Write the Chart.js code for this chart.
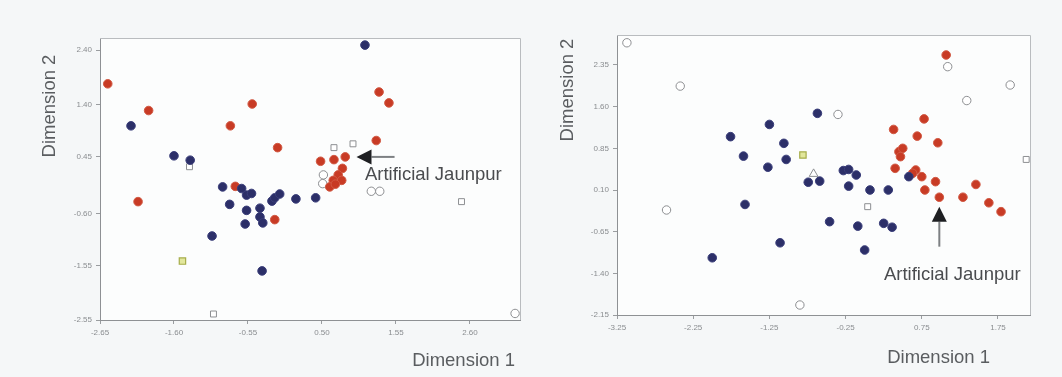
<!DOCTYPE html>
<html><head><meta charset="utf-8">
<script src="https://cdn.jsdelivr.net/npm/chart.js@4.4.1/dist/chart.umd.min.js"></script>
<style>
html,body{margin:0;padding:0;background:#f5f7f8;}
#wrap{position:relative;width:1062px;height:377px;overflow:hidden;}
.c{position:absolute;top:0;width:531px;height:377px;}
</style></head><body>
<div id="wrap">
<div class="c" style="left:0"><canvas id="left" width="531" height="377"></canvas></div>
<div class="c" style="left:531px"><canvas id="right" width="531" height="377"></canvas></div>
</div>
<script>
// ---------- tick labels ----------
const LEFT_X_TICKS  = [-2.65, -1.60, -0.55, 0.50, 1.55, 2.60];
const LEFT_Y_TICKS  = [-2.55, -1.55, -0.60, 0.45, 1.40, 2.40];
const RIGHT_X_TICKS = [-3.25, -2.25, -1.25, -0.25, 0.75, 1.75];
const RIGHT_Y_TICKS = [-2.15, -1.40, -0.65, 0.10, 0.85, 1.60, 2.35];

// ---------- left panel data ----------
const leftNavyX = [1.11,-2.21,-1.60,-1.37,-0.91,-0.81,-0.64,-0.57,-0.50,-0.57,-0.38,-0.38,-0.34,-0.59,-0.21,-0.17,-0.10,0.13,0.41,-1.06,-0.35];
const leftNavyY = [2.49,1.01,0.46,0.38,-0.11,-0.43,-0.14,-0.26,-0.23,-0.54,-0.50,-0.66,-0.77,-0.79,-0.37,-0.31,-0.24,-0.33,-0.31,-1.01,-1.65];
const leftRedX = [-2.54,-1.96,-2.11,-0.49,-0.80,-0.13,-0.73,-0.17,1.31,1.45,1.27,0.48,0.67,0.83,0.79,0.73,0.78,0.66,0.61,0.69];
const leftRedY = [1.78,1.29,-0.38,1.41,1.01,0.61,-0.10,-0.71,1.63,1.43,0.74,0.36,0.39,0.44,0.23,0.11,0.01,0.01,-0.11,-0.06];
const leftOpenCircleX = [0.52,0.51,1.20,1.32,3.24];
const leftOpenCircleY = [0.11,-0.05,-0.19,-0.19,-2.43];
const leftOpenSquareX = [-1.38,0.67,0.94,2.48,-1.04];
const leftOpenSquareY = [0.26,0.61,0.68,-0.38,-2.44];
const leftYellowX = [-1.48];
const leftYellowY = [-1.47];

// ---------- right panel data ----------
const rightNavyX = [-0.62,-1.25,-1.76,-1.06,-1.59,-1.03,-1.27,-1.57,-2.00,-1.11,-0.74,-0.59,-0.28,-0.21,-0.11,-0.21,0.07,0.31,-0.46,-0.09,0.25,0.36,0.00,0.58];
const rightNavyY = [1.48,1.28,1.06,0.94,0.71,0.65,0.51,-0.16,-1.12,-0.85,0.24,0.26,0.45,0.47,0.37,0.17,0.10,0.10,-0.47,-0.55,-0.50,-0.57,-0.98,0.34];
const rightRedX = [1.07,0.38,0.78,0.69,0.96,0.45,0.50,0.47,0.40,0.67,0.75,0.93,0.79,0.98,1.29,1.46,1.63,1.79,0.63];
const rightRedY = [2.53,1.19,1.38,1.07,0.95,0.79,0.85,0.70,0.49,0.46,0.34,0.25,0.10,-0.03,-0.03,0.20,-0.13,-0.29,0.40];
const rightOpenCircleX = [-3.12,-2.60,-0.35,1.09,1.34,1.91,-0.85,-2.42];
const rightOpenCircleY = [2.75,-0.26,1.46,2.32,1.71,1.99,-1.97,1.97];
const rightOpenSquareX = [0.04,2.12];
const rightOpenSquareY = [-0.20,0.65];
const rightOpenTriangleX = [-0.67];
const rightOpenTriangleY = [0.39];
const rightYellowX = [-0.81];
const rightYellowY = [0.73];

// ---------- annotation text ----------
const AXIS_X_TITLE = 'Dimension 1';
const AXIS_Y_TITLE = 'Dimension 2';
const NOTE_TEXT = 'Artificial Jaunpur';

const pts = (xs, ys) => xs.map((x, i) => ({x, y: ys[i]}));

const NAVY = '#2c2f68', RED = '#c83b25';
function sets(navy, red, oc, os, yel, tri) {
  const base = {clip: false, pointHoverRadius: 5};
  const out = [
    {...base, label:'navy', data: navy, pointRadius: 4.3, backgroundColor: NAVY, borderColor: '#3a3e7a', borderWidth: 1},
    {...base, label:'red', data: red, pointRadius: 4.3, backgroundColor: RED, borderColor: '#d25a44', borderWidth: 1},
    {...base, label:'open', data: oc, pointRadius: 4.2, backgroundColor: '#ffffff', borderColor: '#8d8f92', borderWidth: 1},
    {...base, label:'openSq', data: os, pointStyle: 'rect', pointRadius: 4.2, backgroundColor: '#ffffff', borderColor: '#8d8f92', borderWidth: 1},
    {...base, label:'yellow', data: yel, pointStyle: 'rect', pointRadius: 4.5, backgroundColor: '#e2e79c', borderColor: '#a6ad4a', borderWidth: 1.2}
  ];
  if (tri) out.push({...base, label:'tri', data: tri, pointStyle: 'triangle', pointRadius: 5, backgroundColor: '#ffffff', borderColor: '#8d8f92', borderWidth: 1});
  return out;
}

const decor = {
  id: 'decor',
  beforeDraw(chart) {
    const {ctx, chartArea: a} = chart;
    ctx.save();
    ctx.fillStyle = '#fcfdfd';
    ctx.fillRect(a.left, a.top, a.right - a.left, a.bottom - a.top);
    ctx.restore();
  },
  afterDraw(chart, args, o) {
    const {ctx, chartArea: a, scales} = chart;
    ctx.save();
    ctx.strokeStyle = '#b9bcbf'; ctx.lineWidth = 1;
    ctx.beginPath();
    ctx.moveTo(a.left, a.top + 0.5); ctx.lineTo(a.right + 0.5, a.top + 0.5); ctx.lineTo(a.right + 0.5, a.bottom);
    ctx.stroke();
    ctx.fillStyle = '#5a5d60';
    ctx.font = '18.5px "Liberation Sans", Arial, sans-serif';
    ctx.textAlign = 'right'; ctx.textBaseline = 'middle';
    ctx.fillText(AXIS_X_TITLE, a.right - o.xTitleInset, o.xTitleY);
    ctx.save();
    ctx.translate(o.yTitleX, o.yTitleY);
    ctx.rotate(-Math.PI / 2);
    ctx.textAlign = 'center';
    ctx.fillText(AXIS_Y_TITLE, 0, 0);
    ctx.restore();
    const xs = scales.x, ys = scales.y;
    const tx = xs.getPixelForValue(o.arrow.tip[0]), ty = ys.getPixelForValue(o.arrow.tip[1]);
    const sx = xs.getPixelForValue(o.arrow.tail[0]), sy = ys.getPixelForValue(o.arrow.tail[1]);
    const ang = Math.atan2(ty - sy, tx - sx);
    const hl = 15, hw = 7.5;
    const bx = tx - hl * Math.cos(ang), by = ty - hl * Math.sin(ang);
    ctx.strokeStyle = '#7d8083'; ctx.lineWidth = 2;
    ctx.beginPath(); ctx.moveTo(sx, sy); ctx.lineTo(bx, by); ctx.stroke();
    ctx.fillStyle = '#1e1f22';
    ctx.beginPath();
    ctx.moveTo(tx, ty);
    ctx.lineTo(bx + hw * Math.sin(ang), by - hw * Math.cos(ang));
    ctx.lineTo(bx - hw * Math.sin(ang), by + hw * Math.cos(ang));
    ctx.closePath(); ctx.fill();
    ctx.fillStyle = '#4a4c4f';
    ctx.font = '18.5px "Liberation Sans", Arial, sans-serif';
    ctx.textAlign = o.note.align; ctx.textBaseline = 'middle';
    ctx.fillText(NOTE_TEXT, xs.getPixelForValue(o.note.at[0]), ys.getPixelForValue(o.note.at[1]));
    ctx.restore();
  }
};

function axis(min, max, ticks, size, horizontal) {
  return {
    type: 'linear', min, max,
    afterBuildTicks: s => { s.ticks = ticks.map(v => ({value: v})); },
    afterFit: s => { if (horizontal) s.height = size; else s.width = size; },
    ticks: {
      autoSkip: false, maxRotation: 0, padding: 4,
      color: '#8a8d90',
      font: {family: '"Liberation Sans", Arial, sans-serif', size: 8},
      callback: v => Number(v).toFixed(2)
    },
    grid: {display: true, drawOnChartArea: false, drawTicks: true, tickLength: 4, color: '#9a9da0'},
    border: {display: true, color: '#8e9194', width: 1}
  };
}

function makeChart(id, datasets, sc, pad, decorOpts) {
  return new Chart(document.getElementById(id), {
    type: 'scatter',
    data: {datasets},
    options: {
      responsive: false, animation: false,
      layout: {padding: pad},
      plugins: {legend: {display: false}, tooltip: {enabled: false}, decor: decorOpts},
      scales: sc
    },
    plugins: [decor]
  });
}

makeChart('left',
  sets(pts(leftNavyX, leftNavyY), pts(leftRedX, leftRedY), pts(leftOpenCircleX, leftOpenCircleY),
       pts(leftOpenSquareX, leftOpenSquareY), pts(leftYellowX, leftYellowY)),
  {x: axis(-2.65, 3.31, LEFT_X_TICKS, 57, true), y: axis(-2.55, 2.62, LEFT_Y_TICKS, 100, false)},
  {top: 38, right: 11, left: 0, bottom: 0},
  {xTitleInset: 5, xTitleY: 361, yTitleX: 50, yTitleY: 106,
   arrow: {tip: [0.99, 0.44], tail: [1.53, 0.44]}, note: {at: [1.11, 0.11], align: 'left'}}
);

makeChart('right',
  sets(pts(rightNavyX, rightNavyY), pts(rightRedX, rightRedY), pts(rightOpenCircleX, rightOpenCircleY),
       pts(rightOpenSquareX, rightOpenSquareY), pts(rightYellowX, rightYellowY), pts(rightOpenTriangleX, rightOpenTriangleY)),
  {x: axis(-3.25, 2.17, RIGHT_X_TICKS, 62, true), y: axis(-2.15, 2.89, RIGHT_Y_TICKS, 86, false)},
  {top: 35, right: 32, left: 0, bottom: 0},
  {xTitleInset: 40, xTitleY: 358, yTitleX: 37, yTitleY: 90,
   arrow: {tip: [0.98, -0.20], tail: [0.98, -0.92]}, note: {at: [1.15, -1.43], align: 'center'}}
);
</script>
</body></html>
